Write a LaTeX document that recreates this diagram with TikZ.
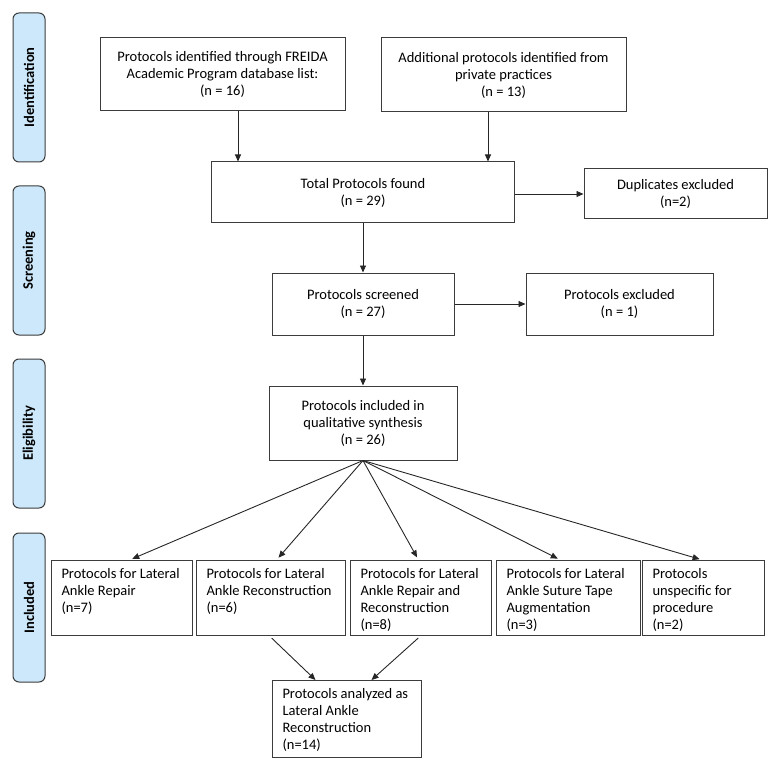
\documentclass[tikz,border=0pt]{standalone}
\usepackage{fontspec}
\setmainfont{Carlito}
\usepackage{tikz}
\usetikzlibrary{arrows.meta}

\definecolor{sideblue}{RGB}{204,232,250}
\definecolor{edge}{RGB}{60,60,60}

\tikzset{
    box/.style={draw=edge, line width=1pt, align=center, inner sep=0pt},
    sidebox/.style={draw=edge, line width=1pt, fill=sideblue, rounded corners=6pt,
        minimum width=149pt, minimum height=32pt, rotate=90,
        font=\fontsize{14.5}{17}\selectfont\bfseries},
    arr/.style={-{Triangle[length=7pt,width=6pt]}, line width=0.9pt, black!85}
}
\newcommand{\topbox}[3]{\parbox[t][#2][t]{#1}{\raggedright #3}}

\begin{document}
\begin{tikzpicture}[x=1pt, y=-1pt, font=\fontsize{14.5}{17}\selectfont]
    \useasboundingbox (0,0) rectangle (779,770);

    % Stage labels on the left
    \node[sidebox] (ident) at (29,87.5) {Identification};
    \node[sidebox] (screen) at (29,260.5) {Screening};
    \node[sidebox] (elig) at (29,433.5) {Eligibility};
    \node[sidebox] (incl) at (29,607.5) {Included};

    % Identification boxes
    \node[box, minimum width=245pt, minimum height=73pt] (freida) at (222.5,74.5)
        {Protocols identified through FREIDA\\Academic Program database list:\\(n = 16)};
    \node[box, minimum width=245pt, minimum height=74pt] (private) at (503.5,75)
        {Additional protocols identified from\\private practices\\(n = 13)};

    % Screening boxes
    \node[box, minimum width=303pt, minimum height=61pt] (total) at (363,192.5)
        {Total Protocols found\\(n = 29)};
    \node[box, minimum width=183pt, minimum height=50pt] (dup) at (675.5,194)
        {Duplicates excluded\\(n=2)};
    \node[box, minimum width=182pt, minimum height=62pt] (screened) at (363,304)
        {Protocols screened\\(n = 27)};
    \node[box, minimum width=187pt, minimum height=62pt] (excl) at (619.5,304)
        {Protocols excluded\\(n = 1)};

    % Eligibility
    \node[box, minimum width=188pt, minimum height=74pt] (synth) at (363,423)
        {Protocols included in\\qualitative synthesis\\(n = 26)};

    % Included boxes (text at top left)
    \node[box, anchor=north west, inner xsep=10pt, inner ysep=8pt] (repair) at (51,560)
        {\topbox{121pt}{59pt}{Protocols for Lateral\\Ankle Repair\\(n=7)}};
    \node[box, anchor=north west, inner xsep=10pt, inner ysep=8pt] (recon) at (196,560)
        {\topbox{129pt}{59pt}{Protocols for Lateral\\Ankle Reconstruction\\(n=6)}};
    \node[box, anchor=north west, inner xsep=10pt, inner ysep=8pt] (both) at (350,560)
        {\topbox{121pt}{59pt}{Protocols for Lateral\\Ankle Repair and\\Reconstruction\\(n=8)}};
    \node[box, anchor=north west, inner xsep=10pt, inner ysep=8pt] (tape) at (496,560)
        {\topbox{124pt}{59pt}{Protocols for Lateral\\Ankle Suture Tape\\Augmentation\\(n=3)}};
    \node[box, anchor=north west, inner xsep=10pt, inner ysep=8pt] (unspec) at (642,560)
        {\topbox{102pt}{59pt}{Protocols\\unspecific for\\procedure\\(n=2)}};
    \node[box, anchor=north west, inner xsep=10pt, inner ysep=8pt] (analyzed) at (272,680)
        {\topbox{129pt}{61pt}{Protocols analyzed as\\Lateral Ankle\\Reconstruction\\(n=14)}};

    % Arrows
    \draw[arr] ([xshift=15.5pt]freida.south) -- ([xshift=15.5pt]freida.south |- total.north);
    \draw[arr] ([xshift=-15.5pt]private.south) -- ([xshift=-15.5pt]private.south |- total.north);
    \draw[arr] (total.east |- dup.west) -- (dup.west);
    \draw[arr] (total.south) -- (screened.north);
    \draw[arr] (screened.east) -- (excl.west);
    \draw[arr] (screened.south) -- (synth.north);

    % Fan out to the included groups
    \draw[arr, shorten >=3pt] (synth.south) -- ([xshift=7.5pt]repair.north);
    \draw[arr, shorten >=3pt] (synth.south) -- ([xshift=5.5pt]recon.north);
    \draw[arr, shorten >=3pt] (synth.south) -- ([xshift=-2.5pt]both.north);
    \draw[arr, shorten >=3pt] (synth.south) -- ([xshift=-8pt]tape.north);
    \draw[arr, shorten >=3pt] (synth.south) -- ([xshift=-1pt]unspec.north);

    % Merge into analyzed group
    \draw[arr, shorten <=3pt] ([xshift=-1.5pt]recon.south) -- ([xshift=-31.5pt]analyzed.north);
    \draw[arr, shorten <=3pt] ([xshift=-0.5pt]both.south) -- ([xshift=24.5pt]analyzed.north);
\end{tikzpicture}
\end{document}
